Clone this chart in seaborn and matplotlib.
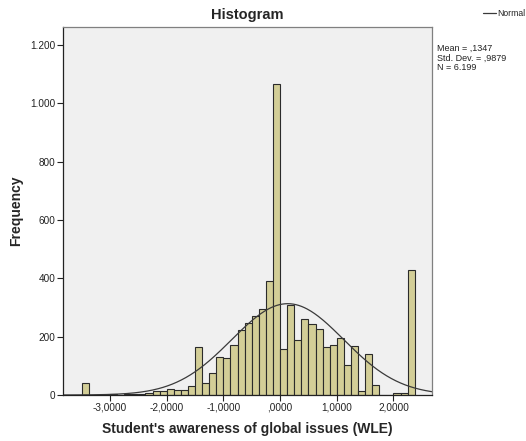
import numpy as np
import pandas as pd
import matplotlib
matplotlib.use("Agg")
import matplotlib.pyplot as plt
from matplotlib.lines import Line2D
from matplotlib.ticker import FixedLocator, FuncFormatter
import seaborn as sns

# Frequencies per bin of width 0.125, first bin starting at -3.5
bin_width = 0.125
first_edge = -3.5
counts = [42, 0, 0, 1, 2, 1, 2, 3, 4, 6,
          15, 15, 20, 18, 18, 32, 163, 40, 75, 131,
          127, 172, 224, 248, 272, 293, 390, 1067, 156, 307,
          188, 262, 242, 227, 164, 170, 196, 102, 168, 12,
          139, 35, 0, 0, 7, 7, 428]

# Summary statistics shown beside the chart
mean_val = 0.1347
std_val = 0.9879
n_val = 6199

x_ticks = [-3, -2, -1, 0, 1, 2]
y_ticks = [0, 200, 400, 600, 800, 1000, 1200]

edges = [first_edge + bin_width * i for i in range(len(counts) + 1)]
centers = [(edges[i] + edges[i + 1]) / 2 for i in range(len(counts))]
df = pd.DataFrame({"wle": centers, "freq": counts})

sns.set_style("white")
plt.rcParams["font.family"] = ["Liberation Sans", "DejaVu Sans"]

fig = plt.figure(figsize=(5.26, 4.41), dpi=100)
ax = fig.add_axes([63 / 526, 1 - 395 / 441, (432 - 63) / 526, (395 - 27) / 441])
ax.set_facecolor("#F0F0F0")

sns.histplot(data=df, x="wle", weights="freq", bins=edges, ax=ax,
             color="#D3CE97", alpha=1.0, edgecolor="#2b2b2b", linewidth=0.8)

# Normal curve scaled to counts per bin
xs = np.linspace(-3.83, 2.68, 400)
ys = n_val * bin_width * np.exp(-0.5 * ((xs - mean_val) / std_val) ** 2) / (std_val * np.sqrt(2 * np.pi))
ax.plot(xs, ys, color="#3a3a3a", linewidth=0.9)

ax.set_xlim(-3.83, 2.68)
ax.set_ylim(0, 1261)

ax.xaxis.set_major_locator(FixedLocator(x_ticks))
ax.yaxis.set_major_locator(FixedLocator(y_ticks))


def fmt_dec(v, pos=None):
    s = f"{v:.4f}".replace(".", ",")
    if s.startswith("0,"):
        s = s[1:]
    elif s.startswith("-0,"):
        s = "-" + s[2:]
    return s


def fmt_int(v, pos=None):
    return f"{int(round(v)):,}".replace(",", ".")


ax.xaxis.set_major_formatter(FuncFormatter(fmt_dec))
ax.yaxis.set_major_formatter(FuncFormatter(fmt_int))
ax.tick_params(axis="both", which="major", direction="out", length=4,
               width=0.8, color="#222222", labelsize=7.2, labelcolor="#222222", pad=1.5)
ax.tick_params(bottom=True, left=True)

for side in ("left", "bottom"):
    ax.spines[side].set_color("#222222")
    ax.spines[side].set_linewidth(0.9)
for side in ("top", "right"):
    ax.spines[side].set_color("#808080")
    ax.spines[side].set_linewidth(0.9)
    ax.spines[side].set_visible(True)

ax.set_title("Histogram", fontsize=10.5, fontweight="bold", pad=6)
ax.set_xlabel("Student's awareness of global issues (WLE)", fontsize=10,
              fontweight="bold", labelpad=7)
ax.set_ylabel("Frequency", fontsize=10, fontweight="bold", labelpad=5)

# Legend entry for the fitted curve
fig.add_artist(Line2D([483 / 526, 496 / 526], [1 - 13 / 441, 1 - 13 / 441],
                      color="#3a3a3a", linewidth=0.9, transform=fig.transFigure))
fig.text(497 / 526, 1 - 13 / 441, "Normal", fontsize=6.2, va="center", ha="left",
         color="#222222")

stats_text = (f"Mean = {fmt_dec(mean_val)}\n"
              f"Std. Dev. = {fmt_dec(std_val)}\n"
              f"N = {fmt_int(n_val)}")
fig.text(437 / 526, 1 - 44 / 441, stats_text, fontsize=6.5, va="top", ha="left",
         linespacing=1.05, color="#222222")

fig.savefig("out.png", dpi=100, facecolor="white")
